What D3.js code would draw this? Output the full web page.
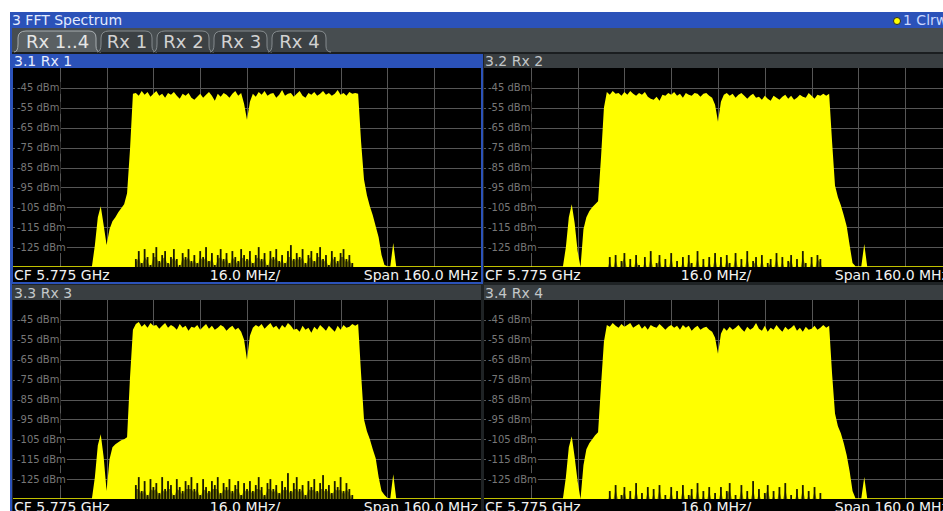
<!DOCTYPE html>
<html><head><meta charset="utf-8">
<script src="https://cdn.jsdelivr.net/npm/d3@7"></script>
<style>
html,body{margin:0;padding:0;background:#fff;overflow:hidden;}
svg{display:block;}
text{font-family:"DejaVu Sans",Verdana,sans-serif;}
</style>
</head><body>
<svg id="chart" width="943" height="511"></svg>
<script>
// ---------------- data ----------------
const windowTitle = "3 FFT Spectrum";
const traceLabel = "1 Clrw";
const tabLabels = ["Rx 1..4", "Rx 1", "Rx 2", "Rx 3", "Rx 4"];
const panelTitles = ["3.1 Rx 1", "3.2 Rx 2", "3.3 Rx 3", "3.4 Rx 4"];
const footerLabels = ["CF 5.775 GHz", "16.0 MHz/", "Span 160.0 MHz"];
const freqStartMHz = 5695, freqStopMHz = 5855;
const refLevelDbm = -35, bottomLevelDbm = -135;
const yTicks = [-45, -55, -65, -75, -85, -95, -105, -115, -125];
const yTickLabels = ["-45 dBm", "-55 dBm", "-65 dBm", "-75 dBm", "-85 dBm", "-95 dBm", "-105 dBm", "-115 dBm", "-125 dBm"];
const xGridMHz = [5711, 5727, 5743, 5759, 5775, 5791, 5807, 5823, 5839];
const noiseFloorDbm = -134.6;

// sweep points (MHz) where the trace leaves the noise floor
const sweepFreqMHz = [5723,5724,5725,5726,5727,5728,5729,5730,5731,5732,5733,5734,5735,5736,
 5737,5738,5739,5740,5741,5742,5743,5744,5745,5746,5747,5748,5749,5750,5751,5752,5753,5754,5755,5756,
 5757,5758,5759,5760,5761,5762,5763,5764,5765,5766,5767,5768,5769,5770,5771,5772,5773,5774,
 5775,
 5776,5777,5778,5779,5780,5781,5782,5783,5784,5785,5786,5787,5788,5789,5790,5791,5792,5793,5794,5795,
 5796,5797,5798,5799,5800,5801,5802,5803,5804,5805,5806,5807,5808,5809,5810,5811,5812,
 5813,5814,5815,5816,5817,5818,5819,5820,5821,5822,5823,5824,5825];

// max-hold envelope (dBm) per receiver, at sweepFreqMHz
const rx1Max = [-124,-110,-104.5,-114,-124,-116,-112,-110,-107.5,-105.5,-103.5,-98,-76,-48,
 -47.5,-49,-46.5,-48.5,-47,-49.5,-48,-46.5,-49,-48,-50,-47.5,-48.5,-47,-49,-50.5,-48,-49,-47.5,-50,
 -51,-49.5,-48,-50,-48.5,-47,-49,-51.5,-48,-49.5,-47.5,-48.5,-50,-48,-46.5,-49,-47.5,-53,
 -61,
 -52,-48,-49.5,-47,-48.5,-46.5,-49,-48,-47.5,-50,-48.5,-46,-49,-48,-47.5,-49.5,-48,-46.5,-49,-50,
 -47.5,-48.5,-47,-49,-48,-46.5,-48.5,-47.5,-49,-48,-46,-48.5,-47.5,-49,-47,-48,-47.5,
 -48,-72,-91,-99,-104.5,-109,-114.5,-120,-129,-134,-134.6,-134.6,-123];
const rx2Max = [-125,-110,-103.5,-113,-127,-135,-116,-110,-107,-105,-103.5,-102,-80,-55,
 -47,-48.5,-46.5,-48,-47.5,-49,-47,-48.5,-46.5,-48,-49,-47.5,-48.5,-47,-49.5,-50.5,-51,-49.5,-51.5,-48.5,
 -49,-47.5,-48.5,-47,-49,-48,-50,-47.5,-48.5,-49,-47.5,-48,-49.5,-48,-47.5,-49,-50,-53.5,
 -62,
 -52,-48.5,-47.5,-49,-48,-50,-48.5,-47.5,-49,-50.5,-49,-48,-50,-49.5,-51,-49,-50.5,-51.5,-49,-50,
 -51,-49.5,-48.5,-50.5,-49,-51,-50,-48.5,-49.5,-50,-47.5,-49,-50.5,-48.5,-49,-48,-49,
 -48,-72,-94,-100,-104,-109,-114.5,-124,-133,-134.6,-134.6,-134.6,-123.5];
const rx3Max = [-124,-108,-102.5,-114,-131,-115,-109,-107.5,-106.5,-105.5,-105,-104,-74,-50,
 -47,-46,-48.5,-47,-49,-46.5,-48,-47.5,-49.5,-48,-46.5,-49,-47.5,-48.5,-50,-47,-49,-48,-50.5,-48.5,
 -49,-47.5,-50,-48.5,-47,-49.5,-48,-50,-49,-47.5,-48.5,-50.5,-49,-48,-50,-49,-51,-55,
 -65,
 -53,-49,-47.5,-48.5,-47,-49.5,-48,-46.5,-49,-48,-50,-47.5,-49,-46.5,-48,-50,-49.5,-51,-48,-50,
 -49,-51.5,-48.5,-50,-47.5,-49,-50.5,-48,-49.5,-51,-48,-50,-47.5,-49,-48.5,-47,-48,
 -47,-72,-95,-101,-105,-110,-114.5,-124,-131,-133,-134.5,-134.6,-122.5];
const rx4Max = [-124,-109,-103.5,-114,-126,-135,-118,-110,-107,-105,-103,-101.5,-78,-56,
 -47.5,-48.5,-46.5,-48,-49,-47,-48.5,-47.5,-46.5,-49,-48,-47,-49.5,-48,-50,-47.5,-48.5,-49,-47,-48.5,
 -50,-48.5,-47.5,-49,-48,-50,-47.5,-49,-48,-50.5,-49,-48,-50,-49,-48.5,-50,-51,-54,
 -62,
 -52,-49,-50.5,-48.5,-50,-49,-47.5,-49.5,-51,-48.5,-50,-49,-46.5,-49.5,-50.5,-48,-51,-49,-50,-47.5,
 -49.5,-51,-48.5,-50,-49,-47.5,-50.5,-49,-51,-48.5,-50,-49.5,-48,-50,-49,-47.5,-49,
 -48,-72,-92,-98.5,-102,-107,-113,-121,-131,-134.6,-134.6,-134.6,-124];

// min envelope (dBm) inside the occupied band, 5737..5812 MHz
const rx1Min = [-131,-127,-133,-126,-130,-134,-128,-125,-132,-129,-127,-133,-130,-126,-131,-134,-128,-130,-126,-132,
 -129,-133,-127,-130,-125,-132,-128,-134,-129,-126,-131,-128,-133,-127,-130,-132,-126,-129,
 -131,
 -127,-133,-129,-125,-131,-128,-134,-127,-130,-126,-132,-129,-133,-127,-124,-131,-128,-130,-126,-133,
 -129,-127,-132,-128,-125,-131,-129,-134,-127,-130,-132,-128,-126,-131,-129,-133,-135];
const rx2Min = [-135,-130,-135,-129,-135,-132,-128,-135,-131,-135,-129,-134,-135,-130,-135,-127,-135,-133,-129,-135,
 -131,-135,-128,-135,-132,-135,-130,-135,-129,-133,-135,-127,-135,-131,-135,-130,-135,-128,
 -135,
 -130,-135,-129,-133,-135,-128,-135,-131,-135,-127,-135,-132,-130,-135,-129,-135,-133,-131,-135,-128,
 -135,-130,-135,-132,-129,-135,-131,-135,-127,-133,-135,-130,-135,-129,-131,-135,-135];
const rx3Min = [-128,-124,-131,-126,-133,-125,-129,-127,-132,-124,-130,-126,-128,-133,-125,-129,-131,-126,-128,-124,
 -130,-127,-133,-125,-129,-131,-126,-128,-124,-132,-127,-129,-125,-131,-128,-126,-133,-127,
 -130,
 -126,-131,-128,-124,-129,-133,-127,-125,-130,-128,-132,-126,-129,-122,-131,-127,-124,-130,-128,-133,
 -126,-129,-125,-131,-127,-123,-130,-128,-132,-126,-129,-124,-131,-127,-130,-133,-135];
const rx4Min = [-135,-131,-135,-128,-135,-133,-129,-135,-131,-135,-127,-135,-132,-135,-129,-135,-130,-135,-128,-135,
 -133,-135,-129,-135,-131,-135,-128,-135,-133,-130,-135,-127,-135,-131,-135,-129,-135,-132,
 -135,
 -129,-135,-131,-127,-135,-133,-135,-128,-135,-131,-135,-126,-135,-130,-135,-132,-128,-135,-131,-135,
 -129,-135,-127,-135,-133,-135,-130,-135,-128,-135,-131,-135,-129,-135,-132,-135,-135];

// ---------------- drawing ----------------
const svg = d3.select("#chart");
const W = 943, H = 511;
const PW = 468, PH = 199;
const BLUE = "#2b52b9";

svg.append("rect").attr("width", W).attr("height", H).attr("fill", "#1f2325");
svg.append("rect").attr("width", W).attr("height", 12).attr("fill", "#ffffff");
svg.append("rect").attr("width", 10).attr("height", H).attr("fill", "#ffffff");
svg.append("rect").attr("x", 10).attr("y", 12).attr("width", 2).attr("height", H - 12).attr("fill", BLUE);

// window title bar
svg.append("rect").attr("x", 10).attr("y", 12).attr("width", W - 10).attr("height", 16).attr("fill", BLUE);
svg.append("text").attr("x", 12).attr("y", 25).attr("font-size", 14).attr("fill", "#e4ecff").text(windowTitle);
svg.append("circle").attr("cx", 897).attr("cy", 21).attr("r", 3.5).attr("fill", "#ffff00").attr("stroke", "#2a2a2a").attr("stroke-width", 1);
svg.append("text").attr("x", 903).attr("y", 25).attr("font-size", 14).attr("fill", "#c9d7ff").text(traceLabel);

// tab bar
svg.append("rect").attr("x", 12).attr("y", 28).attr("width", W - 12).attr("height", 24).attr("fill", "#474d50");
svg.append("rect").attr("x", 12).attr("y", 52).attr("width", W - 12).attr("height", 2).attr("fill", "#1b1e20");
const tabEdges = [14, 97, 153, 210, 268, 327];
const tabG = svg.append("g");
tabLabels.forEach((lab, i) => {
  const x0 = tabEdges[i], x1 = tabEdges[i + 1];
  const p = `M${x0},52 Q${x0 + 4},52 ${x0 + 4},44 L${x0 + 4},38 Q${x0 + 4},31 ${x0 + 12},31 L${x1 - 8},31 Q${x1 - 1},31 ${x1 - 1},38 L${x1 - 1},46 Q${x1 - 1},52 ${x1 + 4},52`;
  tabG.append("path").attr("d", p)
    .attr("fill", i === 0 ? "#5a6063" : "#3c4144")
    .attr("stroke", i === 0 ? "#a7adb0" : "#858b8e").attr("stroke-width", 1);
  tabG.append("text").attr("x", (x0 + x1) / 2 + 2).attr("y", 48).attr("text-anchor", "middle")
    .attr("font-size", 18).attr("fill", i === 0 ? "#e6e6e6" : "#d2d2d2").text(lab);
});

// panels
const panels = [
  { title: panelTitles[0], left: 13, top: 68, hdrTop: 54, max: rx1Max, min: rx1Min, active: true },
  { title: panelTitles[1], left: 484, top: 68, hdrTop: 54, max: rx2Max, min: rx2Min, active: false },
  { title: panelTitles[2], left: 13, top: 300, hdrTop: 285, max: rx3Max, min: rx3Min, active: false },
  { title: panelTitles[3], left: 484, top: 300, hdrTop: 285, max: rx4Max, min: rx4Min, active: false }
];

const x = d3.scaleLinear().domain([freqStartMHz, freqStopMHz]).range([0, PW]);
const y = d3.scaleLinear().domain([bottomLevelDbm, refLevelDbm]).range([PH, 0]);

panels.forEach((p, idx) => {
  const hdrX = p.left === 13 ? 12 : 484;
  const hdrW = p.left === 13 ? 469 : W - 484;
  svg.append("rect").attr("x", hdrX).attr("y", p.hdrTop).attr("width", hdrW).attr("height", p.top - p.hdrTop)
    .attr("fill", p.active ? BLUE : "#393e41");
  svg.append("text").attr("x", p.left + 1).attr("y", p.top - 2.5).attr("font-size", 14)
    .attr("fill", p.active ? "#e6edff" : "#c3c7c9").text(p.title);

  const g = svg.append("g").attr("transform", `translate(${p.left},${p.top})`);
  g.append("rect").attr("width", PW).attr("height", PH + 15).attr("fill", "#000");

  // grid
  const gy = g.append("g").call(d3.axisLeft(y).tickValues(yTicks).tickSize(-PW).tickFormat(""));
  const gx = g.append("g").attr("transform", `translate(0,${PH})`)
    .call(d3.axisBottom(x).tickValues(xGridMHz).tickSize(-PH).tickFormat(""));
  [gx, gy].forEach(a => {
    a.select(".domain").remove();
    a.selectAll("line").attr("stroke", "#565656").attr("stroke-width", 1).attr("shape-rendering", "crispEdges");
  });

  // y labels with black backing
  const lab = g.append("g");
  yTicks.forEach((v, i) => {
    const t = lab.append("text").attr("x", 4).attr("y", y(v) + 3.5).attr("font-size", 10)
      .attr("fill", "#777777").text(yTickLabels[i]);
    const w = t.node().getComputedTextLength();
    lab.insert("rect", "text").attr("x", 2).attr("y", y(v) - 6).attr("width", w + 3).attr("height", 12).attr("fill", "#000");
  });

  // trace
  const clipId = "clip" + idx;
  g.append("clipPath").attr("id", clipId).append("rect").attr("width", PW).attr("height", PH);
  const tr = g.append("g").attr("clip-path", `url(#${clipId})`);
  const maxPts = [[freqStartMHz, noiseFloorDbm], [sweepFreqMHz[0] - 1, noiseFloorDbm]]
    .concat(sweepFreqMHz.map((f, i) => [f, p.max[i]]))
    .concat([[sweepFreqMHz[sweepFreqMHz.length - 1] + 1, noiseFloorDbm], [freqStopMHz, noiseFloorDbm]]);
  const minFreqs = sweepFreqMHz.slice(14, 14 + p.min.length);
  const minPts = minFreqs.map((f, i) => [f, p.min[i]]);
  const area = d3.area().x(d => x(d[0])).y0(PH + 5).y1(d => y(d[1]));
  tr.append("path").attr("d", area(maxPts)).attr("fill", "#ffff00");
  // min envelope as dark hatch lines rising from the bottom
  tr.append("g").selectAll("rect").data(minPts).join("rect")
    .attr("x", d => x(d[0]) - 0.9).attr("width", 1.8)
    .attr("y", d => y(d[1])).attr("height", d => PH + 5 - y(d[1]))
    .attr("fill", "#1a1a00");
  // low residual dark band between hatches
  tr.append("path").attr("d", d3.area().x(d => x(d[0])).y0(PH + 5).y1(d => y(Math.min(d[1] - 2, -130)))(minPts))
    .attr("fill", "#1a1a00").attr("opacity", 0.55);

  // footer
  g.append("rect").attr("y", PH).attr("width", PW).attr("height", 15).attr("fill", "#000");
  g.append("text").attr("x", 1).attr("y", PH + 13).attr("font-size", 14).attr("fill", "#f2f2f2").text(footerLabels[0]);
  g.append("text").attr("x", 232).attr("y", PH + 13).attr("text-anchor", "middle").attr("font-size", 14).attr("fill", "#f2f2f2").text(footerLabels[1]);
  g.append("text").attr("x", PW - 3).attr("y", PH + 13).attr("text-anchor", "end").attr("font-size", 14).attr("fill", "#f2f2f2").text(footerLabels[2]);
});

// active panel frame (3.1)
svg.append("rect").attr("x", 10).attr("y", 54).attr("width", 3).attr("height", 230).attr("fill", BLUE);
svg.append("rect").attr("x", 481).attr("y", 54).attr("width", 2).attr("height", 230).attr("fill", BLUE);
svg.append("rect").attr("x", 10).attr("y", 282).attr("width", 473).attr("height", 2).attr("fill", BLUE);
</script>
</body></html>
